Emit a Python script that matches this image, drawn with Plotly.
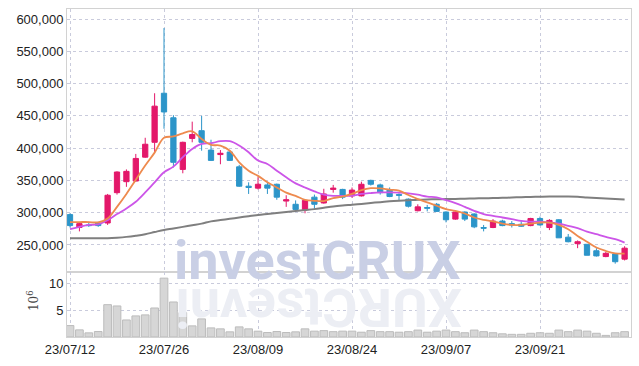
import plotly.graph_objects as go
from plotly.subplots import make_subplots

dates = ["23/07/12","23/07/13","23/07/14","23/07/17","23/07/18","23/07/19","23/07/20","23/07/21","23/07/24","23/07/25",
         "23/07/26","23/07/27","23/07/28","23/07/31","23/08/01","23/08/02","23/08/03","23/08/04","23/08/07","23/08/08",
         "23/08/09","23/08/10","23/08/11","23/08/14","23/08/16","23/08/17","23/08/18","23/08/21","23/08/22","23/08/23",
         "23/08/24","23/08/25","23/08/28","23/08/29","23/08/30","23/08/31","23/09/01","23/09/04","23/09/05","23/09/06",
         "23/09/07","23/09/08","23/09/11","23/09/12","23/09/13","23/09/14","23/09/15","23/09/18","23/09/19","23/09/20",
         "23/09/21","23/09/22","23/09/25","23/09/26","23/09/27","23/10/04","23/10/05","23/10/06","23/10/10","23/10/11"]

open_ = [297000,277000,281000,284000,284000,331000,348000,349000,386000,409000,
         485000,447000,367000,415000,427000,397000,390000,394000,371000,341000,
         338000,343000,344000,318000,313000,305000,324000,315000,336000,336000,
         326000,326000,350000,343000,335000,328000,321000,303000,308000,313000,
         301000,290000,301000,298000,277000,277000,287000,283000,282000,280000,
         291000,277000,289000,262000,252000,251000,241000,232000,236000,228000]
high = [299000,285000,286000,286000,329000,364000,367000,391000,416000,485000,
        586000,451000,410000,441000,450000,413000,397000,396000,374000,347000,
        355000,348000,345000,327000,319000,320000,328000,337000,343000,337000,
        339000,348000,351000,345000,339000,330000,322000,313000,312000,315000,
        302000,302000,302000,299000,281000,290000,289000,287000,287000,292000,
        294000,290000,290000,267000,257000,251000,245000,239000,237000,248000]
low = [277000,271000,278000,278000,281000,328000,340000,348000,385000,393000,
       430000,370000,361000,409000,396000,380000,375000,380000,340000,329000,
       336000,329000,320000,309000,302000,299000,306000,314000,331000,321000,
       323000,325000,342000,328000,324000,318000,308000,302000,302000,301000,
       285000,289000,287000,276000,271000,276000,279000,277000,278000,279000,
       280000,273000,261000,254000,245000,234000,232000,231000,221000,226000]
close = [280000,283000,280000,280000,327000,363000,364000,384000,406000,465000,
         456000,378000,409000,421000,409000,381000,392000,381000,341000,339000,
         344000,338000,324000,320000,305000,319000,313000,329000,338000,324000,
         335000,344000,344000,331000,325000,327000,310000,309000,307000,302000,
         289000,301000,290000,278000,276000,287000,280000,281000,279000,291000,
         281000,288000,261000,255000,255000,234000,233000,237000,224000,245000]

ma_short = [285500,285500,285500,285000,291000,309000,329000,351000,373000,393000,
            416000,418000,423000,426000,414000,405000,404000,396000,378000,365000,
            357000,347000,339000,331000,326000,320000,318400,318000,322600,325000,
            329000,335000,338000,337600,335600,334000,327300,321000,316000,310700,
            305500,302900,298700,292500,289000,286500,283000,281000,281000,283000,
            284700,284700,281000,274400,264000,255000,246000,240700,237000,236500]
ma_mid = [274400,278000,281000,282000,288400,297800,306600,316900,331400,347000,
          362500,371300,385900,398800,406600,407600,410700,410700,404000,393600,
          380700,375500,365000,354700,345400,339000,333000,327800,326000,326000,
          326300,329000,330400,331400,331400,331000,330000,327800,325000,323600,
          319500,314900,309000,302900,297800,295000,292500,290000,287300,286000,
          286000,284700,283000,279600,276000,270700,266600,262500,259000,253600]
ma_long = [260400,260300,260300,260300,260500,261300,262500,264300,266600,270000,
           273300,275500,278000,280500,283000,286500,288500,290500,292500,294500,
           296500,298000,299500,301000,302500,304000,305500,307500,309500,311000,
           312200,313500,315000,316300,317500,318400,319200,320000,320500,320800,
           321000,321300,321600,322000,322300,322600,323000,323500,324000,324300,
           324700,325000,325000,324900,324500,323600,322800,322000,321200,320500]

volume_m = [2.15,1.34,0.78,1.03,6.07,5.83,3.2,3.96,4.15,5.45,
            11.06,6.58,4.58,2.09,3.4,1.71,1.53,0.97,1.9,1.53,
            1.09,0.84,1.03,0.84,0.97,1.53,1.1,1.2,1.0,1.1,
            1.1,0.9,1.2,1.0,1.0,0.9,1.0,1.3,0.9,1.1,
            1.3,1.0,0.8,1.3,1.0,0.8,0.6,0.5,0.5,0.7,
            0.8,0.7,1.3,1.0,1.3,1.1,0.7,0.3,0.8,1.0]

price_ticks = [250000,300000,350000,400000,450000,500000,550000,600000]
date_ticks = ["23/07/12","23/07/26","23/08/09","23/08/24","23/09/07","23/09/21"]
vol_ticks = [5, 10]

UP = "#E3186A"
DOWN = "#2C95C9"
FONT = "Liberation Sans, Arial, sans-serif"
WM_FONT = "Roboto, Liberation Sans, sans-serif"

fig = make_subplots(rows=2, cols=1, shared_xaxes=True,
                    row_heights=[0.802, 0.198], vertical_spacing=0)

fig.add_trace(go.Candlestick(
    x=dates, open=open_, high=high, low=low, close=close,
    increasing=dict(line=dict(color=UP, width=1), fillcolor=UP),
    decreasing=dict(line=dict(color=DOWN, width=1), fillcolor=DOWN),
    whiskerwidth=0, showlegend=False), row=1, col=1)

fig.add_trace(go.Scatter(x=dates, y=ma_long, mode="lines", line=dict(color="#7f7f7f", width=2, shape="spline"),
                         showlegend=False), row=1, col=1)
fig.add_trace(go.Scatter(x=dates, y=ma_mid, mode="lines", line=dict(color="#CC55E8", width=1.8, shape="spline"),
                         showlegend=False), row=1, col=1)
fig.add_trace(go.Scatter(x=dates, y=ma_short, mode="lines", line=dict(color="#EE8A4E", width=1.8, shape="spline"),
                         showlegend=False), row=1, col=1)

fig.add_trace(go.Bar(x=dates, y=volume_m, marker=dict(color="#d6d6d6", line=dict(color="#bcbcbc", width=1)),
                     width=0.82, showlegend=False), row=2, col=1)

grid = "#c9cbdc"
axis_line = "#d2d2d2"
common_x = dict(type="category", range=[-0.32, 59.68], showgrid=True, gridcolor=grid, griddash="dot",
                gridwidth=1, tickvals=date_ticks, ticktext=date_ticks, showline=True, mirror=True,
                linecolor=axis_line, linewidth=1, zeroline=False, ticks="", automargin=False,
                rangeslider=dict(visible=False))
fig.update_xaxes(**common_x)
fig.update_xaxes(showticklabels=False, row=1, col=1)
fig.update_xaxes(showticklabels=True, tickfont=dict(size=13, color="#222"), row=2, col=1)

fig.update_yaxes(range=[208000, 615500], tickvals=price_ticks, tickformat=",", showgrid=True,
                 gridcolor=grid, griddash="dot", showline=True, mirror=True, linecolor=axis_line,
                 zeroline=False, ticks="", automargin=False, tickfont=dict(size=13, color="#222"),
                 row=1, col=1)
fig.update_yaxes(range=[0, 12.2], tickvals=vol_ticks, ticktext=["5", "10"], showgrid=True,
                 gridcolor=grid, griddash="dot", showline=True, mirror=True, linecolor=axis_line,
                 zeroline=False, ticks="", automargin=False, tickfont=dict(size=13, color="#222"),
                 row=2, col=1)

fig.add_annotation(text="investCRUX", xref="paper", yref="paper", x=0.445, y=0.233,
                   xanchor="center", yanchor="middle", showarrow=False,
                   font=dict(family=WM_FONT, size=54, color="#c9cfe5", weight="bold"))
fig.add_annotation(text="XURCtsevni", xref="paper", yref="paper", x=0.445, y=0.088,
                   xanchor="center", yanchor="middle", showarrow=False, textangle=180,
                   font=dict(family=WM_FONT, size=54, color="#eceef4", weight="bold"))
fig.add_annotation(text="10<sup>6</sup>", xref="paper", yref="paper", x=-0.06, y=0.11,
                   xanchor="center", yanchor="middle", showarrow=False, textangle=-90,
                   font=dict(family="DejaVu Serif, serif", size=12, color="#444"))

fig.update_layout(width=639, height=366, margin=dict(l=67, r=8, t=9, b=29),
                  paper_bgcolor="white", plot_bgcolor="white", boxgap=0.2,
                  font=dict(family=FONT, size=13, color="#222"),
                  hovermode=False)

fig.write_html("out.html", config={"displayModeBar": False},
               post_script="document.body.style.margin='0';")
